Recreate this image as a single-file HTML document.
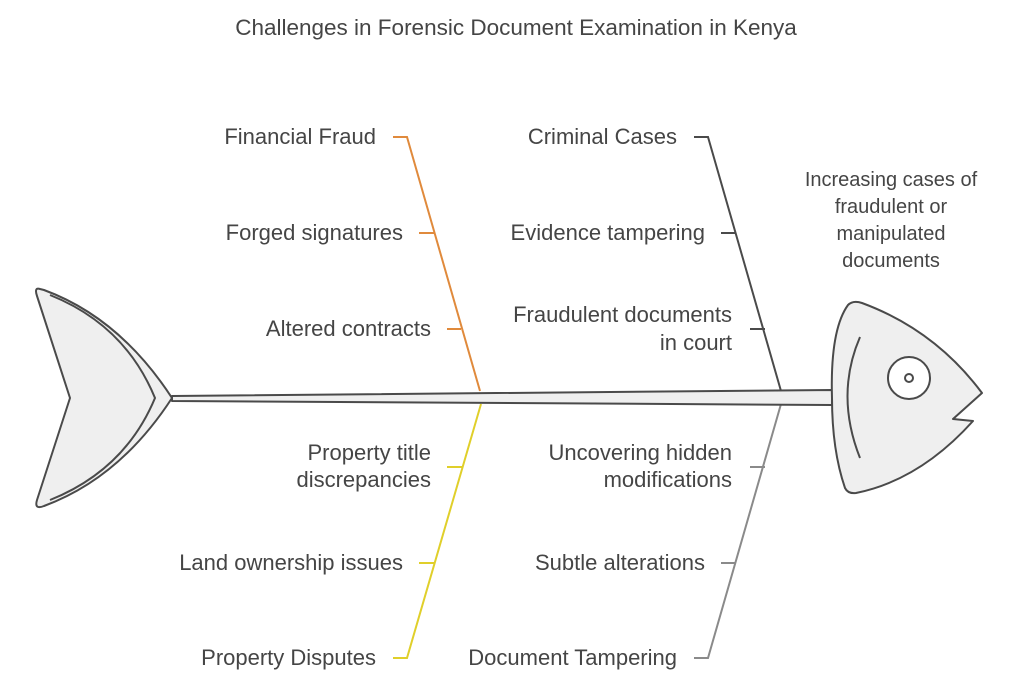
<!DOCTYPE html>
<html><head><meta charset="utf-8"><style>
html,body{margin:0;padding:0;background:#fff;}
svg{display:block;}
text{font-family:"Liberation Sans",sans-serif;font-size:22px;fill:#454545;}
</style></head><body>
<svg width="1024" height="686" viewBox="0 0 1024 686" xmlns="http://www.w3.org/2000/svg">
<text x="516" y="35" text-anchor="middle" style="font-size:22.5px">Challenges in Forensic Document Examination in Kenya</text>

<!-- bones -->
<g fill="none" stroke-width="2">
<path d="M393 137 H407 L480 391" stroke="#e08a3c"/>
<path d="M419 233 H434 M447 329 H461" stroke="#e08a3c"/>
<path d="M694 137 H708 L781 391" stroke="#4a4a4a"/>
<path d="M721 233 H736 M750 329 H765" stroke="#4a4a4a"/>
<path d="M393 658 H407 L481 404" stroke="#e0cf2a"/>
<path d="M419 563 H434 M447 467 H462" stroke="#e0cf2a"/>
<path d="M694 658 H708 L781 404" stroke="#8a8a8a"/>
<path d="M721 563 H736 M750 467 H765" stroke="#8a8a8a"/>
</g>

<!-- spine -->
<path d="M172 396 L832 390 L832 405 L172 401 Z" fill="#efefef" stroke="#4a4a4a" stroke-width="2" stroke-linejoin="round"/>

<!-- tail -->
<path d="M40 289 Q34 287 37 296 L70 398 L37 500 Q34 510 44 506 Q120 478 172 398 Q120 318 44 290 Z" fill="#efefef" stroke="#4a4a4a" stroke-width="2" stroke-linejoin="round"/>
<path d="M50 295 Q125 325 155 398 Q125 470 50 500" fill="none" stroke="#4a4a4a" stroke-width="2"/>

<!-- head -->
<path d="M832 398 Q830 330 848 305 Q853 300 862 303 Q935 330 982 393 L953 419 L973 421 Q920 480 856 493 Q848 494 845 488 Q832 450 832 398 Z" fill="#efefef" stroke="#4a4a4a" stroke-width="2" stroke-linejoin="round"/>
<path d="M860 337 Q835 395 860 458" fill="none" stroke="#4a4a4a" stroke-width="2"/>
<circle cx="909" cy="378" r="21" fill="#fff" stroke="#4a4a4a" stroke-width="2"/>
<circle cx="909" cy="378" r="4" fill="#fff" stroke="#4a4a4a" stroke-width="2"/>

<!-- labels -->
<g text-anchor="end">
<text x="376" y="144">Financial Fraud</text>
<text x="403" y="240">Forged signatures</text>
<text x="431" y="336">Altered contracts</text>
<text x="431" y="460">Property title</text>
<text x="431" y="487">discrepancies</text>
<text x="403" y="570">Land ownership issues</text>
<text x="376" y="665">Property Disputes</text>
<text x="677" y="144">Criminal Cases</text>
<text x="705" y="240">Evidence tampering</text>
<text x="732" y="322">Fraudulent documents</text>
<text x="732" y="350">in court</text>
<text x="732" y="460">Uncovering hidden</text>
<text x="732" y="487">modifications</text>
<text x="705" y="570">Subtle alterations</text>
<text x="677" y="665">Document Tampering</text>
</g>
<g text-anchor="middle">
<text x="891" y="186" style="font-size:20px">Increasing cases of</text>
<text x="891" y="213" style="font-size:20px">fraudulent or</text>
<text x="891" y="240" style="font-size:20px">manipulated</text>
<text x="891" y="267" style="font-size:20px">documents</text>
</g>
</svg>
</body></html>
